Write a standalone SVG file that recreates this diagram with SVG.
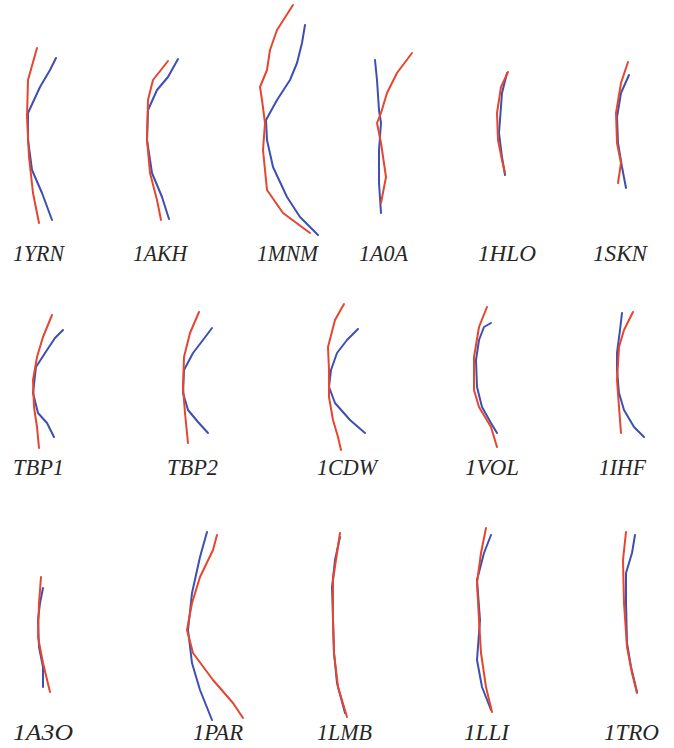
<svg xmlns="http://www.w3.org/2000/svg" width="674" height="748" viewBox="0 0 674 748">
<style>
.r{fill:none;stroke:#e6452f;stroke-width:2;stroke-linejoin:round;stroke-linecap:round}
.b{fill:none;stroke:#3d4fb0;stroke-width:2;stroke-linejoin:round;stroke-linecap:round}
.t{font-family:"Liberation Serif","Times New Roman",serif;font-style:italic;font-size:23px;fill:#262626}
</style>
<rect width="674" height="748" fill="#ffffff"/>
<g id="n-1YRN">
<polyline class="b" points="56,58 50,70 40,87 28,113 28,140 32,170 42,193 52,220"/>
<polyline class="r" points="37,48 28,80 27,117 29,157 33,193 39,223"/>
<text class="t" x="13" y="261" textLength="51" lengthAdjust="spacingAndGlyphs">1YRN</text>
</g>
<g id="n-1AKH">
<polyline class="b" points="178,59 168,77 157,90 148,110 147,140 152,173 162,197 169,219"/>
<polyline class="r" points="168,61 153,80 148,100 147,140 150,173 157,200 161,220"/>
<text class="t" x="133" y="261" textLength="54" lengthAdjust="spacingAndGlyphs">1AKH</text>
</g>
<g id="n-1MNM">
<polyline class="b" points="305,25 302,43 297,63 290,80 277,100 266,120 267,140 273,167 287,197 300,217 318,235"/>
<polyline class="r" points="293,5 277,30 270,50 267,70 260,87 262,100 265,123 263,150 267,190 283,213 310,233"/>
<text class="t" x="257" y="261" textLength="61" lengthAdjust="spacingAndGlyphs">1MNM</text>
</g>
<g id="n-1A0A">
<polyline class="b" points="375,60 377,80 379,110 381,123 379,150 379,183 381,213"/>
<polyline class="r" points="412,53 397,73 387,93 381,113 377,123 381,143 386,177 381,203"/>
<text class="t" x="359" y="261" textLength="49" lengthAdjust="spacingAndGlyphs">1A0A</text>
</g>
<g id="n-1HLO">
<polyline class="b" points="507,73 502,93 499,133 502,157 505,175"/>
<polyline class="r" points="508,72 501,87 497,113 498,140 502,160 505,173"/>
<text class="t" x="478" y="261" textLength="58" lengthAdjust="spacingAndGlyphs">1HLO</text>
</g>
<g id="n-1SKN">
<polyline class="b" points="629,75 621,93 617,117 618,143 622,167 626,188"/>
<polyline class="r" points="628,62 621,83 616,113 617,143 621,163 618,183"/>
<text class="t" x="593" y="261" textLength="54" lengthAdjust="spacingAndGlyphs">1SKN</text>
</g>
<g id="n-TBP1">
<polyline class="b" points="63,330 55,338 47,350 36,367 33,393 38,413 47,423 54,437"/>
<polyline class="r" points="52,315 43,337 37,357 33,380 34,407 37,427 39,448"/>
<text class="t" x="13" y="475" textLength="51" lengthAdjust="spacingAndGlyphs">TBP1</text>
</g>
<g id="n-TBP2">
<polyline class="b" points="212,328 203,340 193,353 184,370 183,393 188,410 198,422 208,433"/>
<polyline class="r" points="199,312 190,333 184,357 183,387 185,413 188,443"/>
<text class="t" x="167" y="475" textLength="51" lengthAdjust="spacingAndGlyphs">TBP2</text>
</g>
<g id="n-1CDW">
<polyline class="b" points="358,329 347,340 337,353 331,370 329,387 335,403 350,420 365,433"/>
<polyline class="r" points="344,304 335,320 328,347 329,370 329,397 333,420 338,437 341,450"/>
<text class="t" x="317" y="475" textLength="60" lengthAdjust="spacingAndGlyphs">1CDW</text>
</g>
<g id="n-1VOL">
<polyline class="b" points="491,323 484,327 479,340 476,360 477,387 482,407 491,423 497,433"/>
<polyline class="r" points="487,307 479,327 474,357 474,390 479,407 491,427 497,447"/>
<text class="t" x="465" y="475" textLength="54" lengthAdjust="spacingAndGlyphs">1VOL</text>
</g>
<g id="n-1IHF">
<polyline class="b" points="622,313 620,330 617,353 617,370 619,393 624,410 634,427 644,437"/>
<polyline class="r" points="633,312 624,330 619,347 617,380 619,407 621,433"/>
<text class="t" x="599" y="475" textLength="47" lengthAdjust="spacingAndGlyphs">1IHF</text>
</g>
<g id="n-1A3O">
<polyline class="b" points="43,588 40,603 38,620 39,647 43,667 43,687"/>
<polyline class="r" points="41,577 39,603 38,637 43,663 50,692"/>
<text class="t" x="13" y="740" textLength="60" lengthAdjust="spacingAndGlyphs">1A3O</text>
</g>
<g id="n-1PAR">
<polyline class="b" points="207,532 200,557 192,593 188,630 192,663 200,690 212,720"/>
<polyline class="r" points="217,535 213,550 200,577 192,603 187,630 193,653 213,680 233,703 243,718"/>
<text class="t" x="193" y="740" textLength="50" lengthAdjust="spacingAndGlyphs">1PAR</text>
</g>
<g id="n-1LMB">
<polyline class="b" points="340,537 335,560 332,587 333,620 334,653 337,683 345,713"/>
<polyline class="r" points="340,533 337,553 333,580 333,620 334,653 338,687 347,717"/>
<text class="t" x="317" y="740" textLength="55" lengthAdjust="spacingAndGlyphs">1LMB</text>
</g>
<g id="n-1LLI">
<polyline class="b" points="491,535 484,553 477,580 480,620 477,660 482,687 491,710"/>
<polyline class="r" points="486,528 481,553 477,583 479,620 481,653 486,687 492,712"/>
<text class="t" x="464" y="740" textLength="45" lengthAdjust="spacingAndGlyphs">1LLI</text>
</g>
<g id="n-1TRO">
<polyline class="b" points="635,535 632,553 626,573 626,603 627,643 631,667 637,692"/>
<polyline class="r" points="626,532 623,560 624,603 627,647 632,673 637,693"/>
<text class="t" x="604" y="740" textLength="55" lengthAdjust="spacingAndGlyphs">1TRO</text>
</g>
</svg>
